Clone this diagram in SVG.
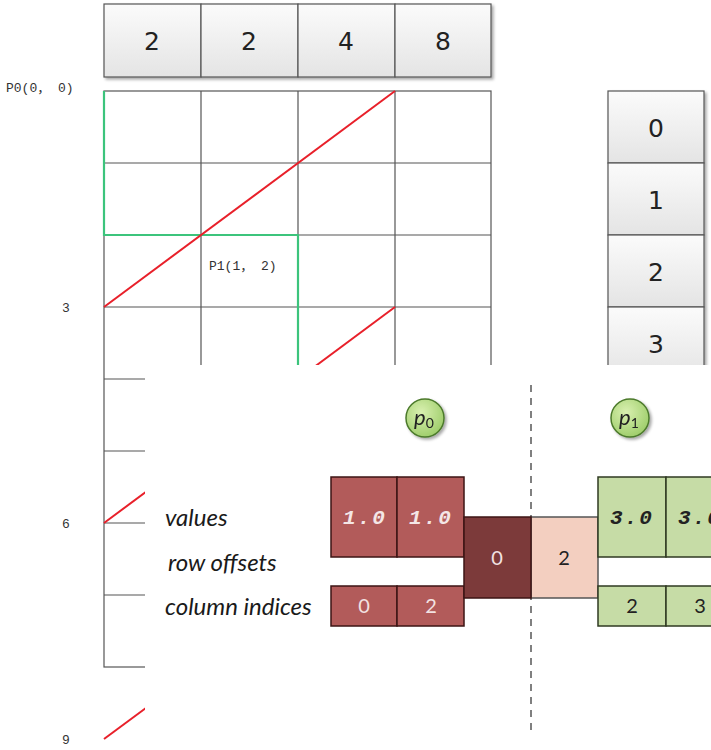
<svg xmlns="http://www.w3.org/2000/svg" width="711" height="750" viewBox="0 0 711 750">
<defs>
<linearGradient id="cellg" x1="0" y1="0" x2="0" y2="1">
<stop offset="0" stop-color="#fbfbfb"/>
<stop offset="1" stop-color="#e4e4e4"/>
</linearGradient>
<radialGradient id="circg" cx="0.4" cy="0.35" r="0.7">
<stop offset="0" stop-color="#d9f0b0"/>
<stop offset="1" stop-color="#9ccc68"/>
</radialGradient>
<filter id="sh" x="-20%" y="-20%" width="150%" height="150%">
<feGaussianBlur in="SourceAlpha" stdDeviation="1.5"/>
<feOffset dx="2" dy="2"/>
<feComponentTransfer><feFuncA type="linear" slope="0.35"/></feComponentTransfer>
<feMerge><feMergeNode/><feMergeNode in="SourceGraphic"/></feMerge>
</filter>
</defs>
<style>
.grid{stroke:#555;stroke-width:1.2;fill:none}
.cell{fill:url(#cellg);stroke:#555;stroke-width:1.2}
.big{font-family:"DejaVu Sans",Verdana,sans-serif;font-size:25px;fill:#222;text-anchor:middle}
.lab{font-family:"Liberation Mono","Noto Sans CJK SC",monospace;font-size:13px;fill:#333}
.red{stroke:#e8202a;stroke-width:2;fill:none}
.grn{stroke:#3cc47c;stroke-width:2.2;fill:none}
.rowlab{font-family:"Lato","Open Sans",sans-serif;font-style:italic;font-size:24px;fill:#1a1a1a}
.mar{fill:#b25b5a;stroke:#3c1515;stroke-width:1.5}
.dmar{fill:#7c3a3a;stroke:#3c1515;stroke-width:1.5}
.pch{fill:#f3cfc0;stroke:#555;stroke-width:1.5}
.gr{fill:#c6dca6;stroke:#2f3a22;stroke-width:1.5}
.num{font-family:"Liberation Mono",monospace;font-weight:bold;font-style:italic;font-size:21px;letter-spacing:2px;text-anchor:middle}
.idx{font-family:"Lato","Open Sans",sans-serif;font-size:20px;text-anchor:middle}
.pc{fill:url(#circg);stroke:#4c7a2c;stroke-width:1.5}
.pt{font-family:"Lato","Open Sans",sans-serif;font-style:italic;font-size:22px;fill:#222}
</style>

<g id="top-bar" filter="url(#sh)">
<rect class="cell" x="104" y="4" width="97" height="73"/>
<rect class="cell" x="201" y="4" width="97" height="73"/>
<rect class="cell" x="298" y="4" width="97" height="73"/>
<rect class="cell" x="395" y="4" width="96" height="73"/>
</g>
<g id="top-bar-text">
<text class="big" x="152" y="50">2</text>
<text class="big" x="249" y="50">2</text>
<text class="big" x="346" y="50">4</text>
<text class="big" x="443" y="50">8</text>
</g>

<g id="grid">
<rect class="grid" x="104" y="91" width="387" height="576" fill="#fff"/>
<path class="grid" d="M201 91V667M298 91V667M395 91V667M104 163H491M104 235H491M104 307H491M104 379H491M104 451H491M104 523H491M104 595H491"/>
</g>

<g id="connectors">
<path class="grn" d="M104 91V235H298V370"/>
<line class="red" x1="104" y1="307" x2="395" y2="91"/>
<line class="red" x1="104" y1="523" x2="395" y2="307"/>
<line class="red" x1="104" y1="739" x2="200" y2="668"/>
</g>

<g id="labels">
<text class="lab" x="6" y="92">P0(0， 0)</text>
<text class="lab" x="209" y="270">P1(1， 2)</text>
<text class="lab" x="62" y="312">3</text>
<text class="lab" x="62" y="528">6</text>
<text class="lab" x="62" y="744">9</text>
</g>

<g id="right-column" filter="url(#sh)">
<rect class="cell" x="608" y="91" width="96" height="72"/>
<rect class="cell" x="608" y="163" width="96" height="72"/>
<rect class="cell" x="608" y="235" width="96" height="72"/>
<rect class="cell" x="608" y="307" width="96" height="72"/>
</g>
<g id="right-column-text">
<text class="big" x="656" y="137">0</text>
<text class="big" x="656" y="209">1</text>
<text class="big" x="656" y="281">2</text>
<text class="big" x="656" y="353">3</text>
</g>

<rect id="overlay" x="145" y="365" width="566" height="385" fill="#fff"/>

<line id="divider" x1="531" y1="385" x2="531" y2="736" stroke="#808080" stroke-width="2" stroke-dasharray="7 6"/>

<g id="p0" filter="url(#sh)">
<circle class="pc" cx="425" cy="418" r="19"/>
<text class="pt" x="414" y="425">p<tspan font-size="14" dy="3" font-style="normal">0</tspan></text>
</g>
<g id="p1" filter="url(#sh)">
<circle class="pc" cx="630" cy="418" r="19"/>
<text class="pt" x="619" y="425">p<tspan font-size="14" dy="3" font-style="normal">1</tspan></text>
</g>

<g id="row-labels">
<text class="rowlab" x="165" y="526">values</text>
<text class="rowlab" x="168" y="571">row offsets</text>
<text class="rowlab" x="165" y="615">column indices</text>
</g>

<g id="p0-values">
<rect class="mar" x="331" y="477" width="66" height="80"/>
<rect class="mar" x="397" y="477" width="67" height="80"/>
<text class="num" x="365" y="524" fill="#f4e6e6">1.0</text>
<text class="num" x="431" y="524" fill="#f4e6e6">1.0</text>
</g>
<g id="p0-columns">
<rect class="mar" x="331" y="586" width="66" height="40"/>
<rect class="mar" x="397" y="586" width="67" height="40"/>
<text class="idx" x="364" y="613" fill="#f2e2e2">0</text>
<text class="idx" x="431" y="613" fill="#f2e2e2">2</text>
</g>
<g id="row-offsets">
<rect class="pch" x="531" y="517" width="67" height="81"/>
<rect class="dmar" x="464" y="517" width="67" height="81"/>
<text class="idx" x="497" y="565" fill="#f2e2e2">0</text>
<text class="idx" x="564" y="565" fill="#222">2</text>
</g>
<g id="p1-values">
<rect class="gr" x="598" y="477" width="68" height="80"/>
<rect class="gr" x="666" y="477" width="68" height="80"/>
<text class="num" x="632" y="524" fill="#222">3.0</text>
<text class="num" x="700" y="524" fill="#222">3.0</text>
</g>
<g id="p1-columns">
<rect class="gr" x="598" y="586" width="68" height="40"/>
<rect class="gr" x="666" y="586" width="68" height="40"/>
<text class="idx" x="632" y="613" fill="#222">2</text>
<text class="idx" x="700" y="613" fill="#222">3</text>
</g>
</svg>
